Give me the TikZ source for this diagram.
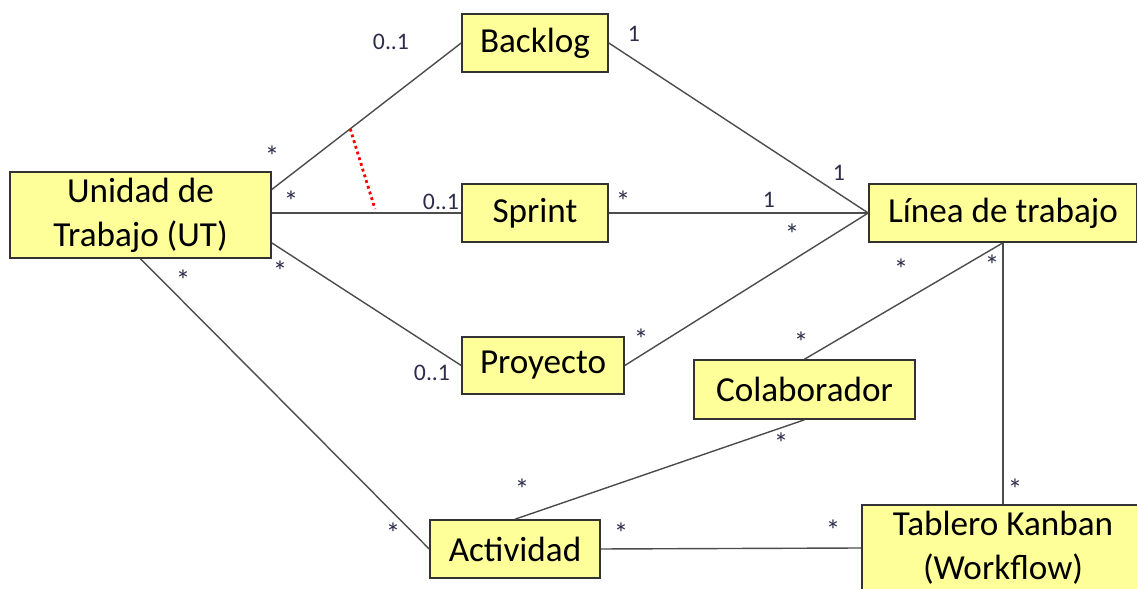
\documentclass[tikz,border=0pt]{standalone}
\usepackage{fontspec}
\setmainfont{Carlito}
\definecolor{classfill}{HTML}{FFFF99}
\definecolor{multtext}{RGB}{45,45,75}
\begin{document}
\begin{tikzpicture}[
    cls/.style={draw=black!80, line width=0.9pt, fill=classfill, inner sep=0pt, align=center, font=\fontsize{20}{25}\selectfont},
    assoc/.style={draw=black!70, line width=0.8pt},
    mult/.style={text=multtext, inner sep=0pt, font=\fontsize{13.5}{16}\selectfont},
    many/.style={mult, font=\fontsize{16.5}{18}\selectfont}
]
    \useasboundingbox (0,0) rectangle (22.74,11.78);
    \clip (0,0) rectangle (22.74,11.78);

    % Classes
    \node[cls, minimum width=5.22cm, minimum height=1.72cm] (ut) at (2.81,7.48) {Unidad de\\Trabajo (UT)};
    \node[cls, minimum width=2.92cm, minimum height=1.16cm] (backlog) at (10.70,10.92) {Backlog};
    \node[cls, minimum width=2.92cm, minimum height=1.16cm] (sprint) at (10.70,7.52) {Sprint};
    \node[cls, minimum width=3.24cm, minimum height=1.14cm] (proyecto) at (10.86,4.47) {Proyecto};
    \node[cls, minimum width=3.40cm, minimum height=1.16cm] (actividad) at (10.30,0.80) {Actividad};
    \node[cls, minimum width=5.36cm, minimum height=1.16cm] (linea) at (20.06,7.52) {Línea de trabajo};
    \node[cls, minimum width=4.42cm, minimum height=1.18cm] (colab) at (16.09,3.99) {Colaborador};
    \node[cls, minimum width=5.64cm, minimum height=1.72cm] (tablero) at (20.06,0.82) {Tablero Kanban\\(Workflow)};

    % Associations of the work unit
    \draw[assoc] (ut.11) -- coordinate[pos=0.414] (split) (backlog.west);
    \draw[assoc] (ut.east |- sprint.west) -- (sprint.west);
    \draw[assoc] (ut.-12) -- (proyecto.west);
    \draw[assoc] (ut.south) -- (actividad.west);

    % Constraint between Backlog and Sprint
    \coordinate (splitend) at (7.50,7.60);
    \draw[red, line width=1.6pt, dash pattern=on 1.6pt off 1.8pt] (split) -- (splitend);

    % Associations of the work line
    \draw[assoc] (backlog.east) -- (linea.west);
    \draw[assoc] (sprint.east) -- (linea.west);
    \draw[assoc] (proyecto.east) -- (linea.west);
    \draw[assoc] (colab.north) -- (linea.south);
    \draw[assoc] (tablero.north) -- (linea.south);
    \draw[assoc] (colab.south) -- (actividad.north);
    \draw[assoc] (actividad.east) -- (tablero.west);

    % Multiplicities
    \node[mult] (m1) at (7.82,10.94) {0..1};
    \node[many] (m2) at (5.44,8.66) {*};
    \node[many] (m3) at (5.82,7.76) {*};
    \node[mult] (m4) at (8.82,7.74) {0..1};
    \node[many] (m5) at (5.60,6.36) {*};
    \node[many] (m6) at (3.66,6.18) {*};
    \node[mult] (m7) at (8.64,4.32) {0..1};
    \node[many] (m8) at (7.86,1.12) {*};
    \node[many] (m9) at (10.44,2.00) {*};
    \node[mult] (m10) at (12.68,11.10) {1};
    \node[mult] (m11) at (16.78,8.32) {1};
    \node[many] (m12) at (12.46,7.76) {*};
    \node[mult] (m13) at (15.38,7.78) {1};
    \node[many] (m14) at (15.84,7.10) {*};
    \node[many] (m15) at (18.02,6.40) {*};
    \node[many] (m16) at (19.84,6.48) {*};
    \node[many] (m17) at (12.82,5.00) {*};
    \node[many] (m18) at (16.02,4.94) {*};
    \node[many] (m19) at (15.62,2.92) {*};
    \node[many] (m20) at (20.30,2.00) {*};
    \node[many] (m21) at (12.42,1.12) {*};
    \node[many] (m22) at (16.66,1.18) {*};
\end{tikzpicture}
\end{document}
